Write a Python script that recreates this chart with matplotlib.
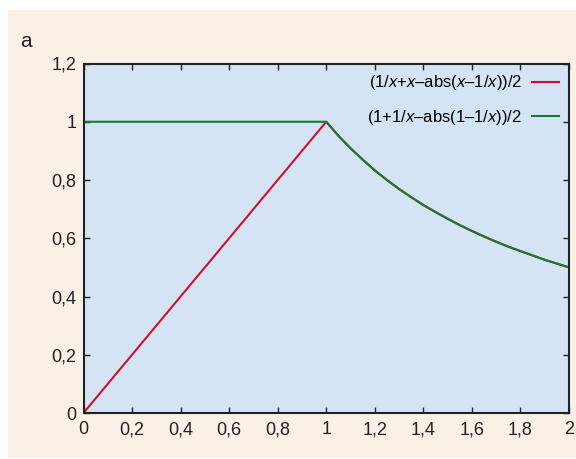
import numpy as np
import matplotlib.pyplot as plt
from matplotlib.patches import Rectangle
from matplotlib.ticker import FuncFormatter

plt.rcParams['font.family'] = ['Liberation Sans Narrow', 'Liberation Sans', 'DejaVu Sans']
plt.rcParams['mathtext.fontset'] = 'custom'
plt.rcParams['mathtext.it'] = 'Liberation Sans:italic'
plt.rcParams['mathtext.rm'] = 'Liberation Sans'

# values
x_red = [0, 1, 1.05, 1.1, 1.15, 1.2, 1.25, 1.3, 1.35, 1.4, 1.45, 1.5,
         1.55, 1.6, 1.65, 1.7, 1.75, 1.8, 1.85, 1.9, 1.95, 2]
y_red = [0, 1, 0.952, 0.909, 0.870, 0.833, 0.800, 0.769, 0.741, 0.714, 0.690, 0.667,
         0.645, 0.625, 0.606, 0.588, 0.571, 0.556, 0.541, 0.526, 0.513, 0.5]
x_green = [0, 1, 1.05, 1.1, 1.15, 1.2, 1.25, 1.3, 1.35, 1.4, 1.45, 1.5,
           1.55, 1.6, 1.65, 1.7, 1.75, 1.8, 1.85, 1.9, 1.95, 2]
y_green = [1, 1, 0.952, 0.909, 0.870, 0.833, 0.800, 0.769, 0.741, 0.714, 0.690, 0.667,
           0.645, 0.625, 0.606, 0.588, 0.571, 0.556, 0.541, 0.526, 0.513, 0.5]
label_red = '(1/$x$+$x$–abs($x$–1/$x$))/2'
label_green = '(1+1/$x$–abs(1–1/$x$))/2'
x_ticks = [0, 0.2, 0.4, 0.6, 0.8, 1, 1.2, 1.4, 1.6, 1.8, 2]
y_ticks = [0, 0.2, 0.4, 0.6, 0.8, 1, 1.2]

fig = plt.figure(figsize=(5.76, 4.59), dpi=100, facecolor='white')
bg = Rectangle((8/576, 1 - 458/459), 1, (458 - 10)/459,
               transform=fig.transFigure, facecolor='#faf1e6',
               edgecolor='none', zorder=-10)
fig.add_artist(bg)

ax = fig.add_axes([83.5/576, 1 - 413/459, (569 - 83.5)/576, (413 - 63.5)/459])
ax.set_facecolor('#d4e4f4')

ax.plot(x_red, y_red, color='#d0102a', lw=1.5, label=label_red)
ax.plot(x_green, y_green, color='#1a7a30', lw=1.5, label=label_green)

ax.set_xlim(0, 2)
ax.set_ylim(0, 1.2)
ax.set_xticks(x_ticks)
ax.set_yticks(y_ticks)
fmt = FuncFormatter(lambda v, p: ('%g' % v).replace('.', ','))
ax.xaxis.set_major_formatter(fmt)
ax.yaxis.set_major_formatter(fmt)
ax.tick_params(direction='in', length=4, width=1, top=True, right=True,
               labelsize=13, pad=6, colors='#222222')
ax.tick_params(axis='y', pad=5)
for s in ax.spines.values():
    s.set_linewidth(1.5)
    s.set_color('#222222')

ax.legend(loc='upper right', frameon=False, markerfirst=False, fontsize=12,
          handlelength=1.6, handletextpad=0.6, labelspacing=0.95,
          borderaxespad=0.2)

fig.text(20/576, 1 - 47/459, 'a', fontsize=15, color='#222222')

fig.savefig('out.png', dpi=100)
